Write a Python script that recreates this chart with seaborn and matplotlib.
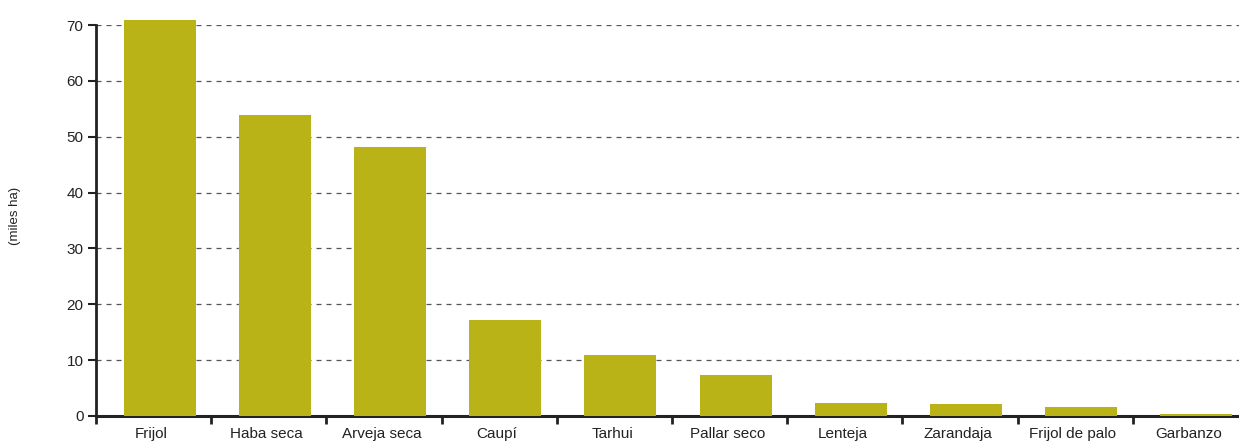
import matplotlib
matplotlib.use("Agg")
import matplotlib.pyplot as plt
import seaborn as sns
import numpy as np
import pandas as pd

# Data
cultivos = ["Frijol", "Haba seca", "Arveja seca", "Caupí", "Tarhui",
            "Pallar seco", "Lenteja", "Zarandaja", "Frijol de palo", "Garbanzo"]
superficie = [70.9, 53.9, 48.2, 17.2, 10.9, 7.3, 2.3, 2.1, 1.6, 0.4]
yticks = [0, 10, 20, 30, 40, 50, 60, 70]

bar_color = "#B9B317"
text_color = "#222222"
my_fontsize = 11

sns.set_style("white")
plt.rcParams['font.family'] = ['Liberation Sans', 'DejaVu Sans']

df = pd.DataFrame({"cultivo": cultivos, "miles_ha": superficie})
n = len(cultivos)

fig = plt.figure(figsize=(12.39, 4.43), dpi=100)
# axes runs a little past the right edge of the picture, as in the original
ax = fig.add_axes([0.0775, 0.061, 0.9298, 0.8825])

sns.barplot(data=df, x="cultivo", y="miles_ha", color=bar_color,
            width=0.625, saturation=1, linewidth=0, ax=ax, zorder=3)
for p in ax.patches:
    p.set_clip_on(False)

# bars sit slightly right of the category centre
shift = 0.052
ax.set_ylim(0, 70)
ax.set_xlim(-0.5 - shift, n - 0.5 - shift)
ax.set_yticks(yticks)
ax.set_yticklabels([str(v) for v in yticks], fontsize=my_fontsize, color=text_color)
ax.set_xticks(np.arange(n) - shift - 0.02)
ax.set_xticklabels(cultivos, fontsize=my_fontsize, color=text_color)
ax.set_xticks(np.arange(n + 1) - 0.5 - shift, minor=True)
ax.tick_params(axis="x", which="major", length=0, pad=8)
ax.tick_params(axis="x", which="minor", length=6, width=2, color=text_color,
               direction="out", bottom=True)
ax.tick_params(axis="y", length=6, width=1.5, color=text_color, direction="out",
               pad=3, left=True)

ax.yaxis.grid(True, linestyle=(0, (4, 4)), color="#555555", linewidth=0.9, zorder=0)
ax.xaxis.grid(False)
ax.set_axisbelow(True)

for s in ["top", "right"]:
    ax.spines[s].set_visible(False)
ax.spines["left"].set_color(text_color)
ax.spines["left"].set_linewidth(2)
ax.spines["bottom"].set_color(text_color)
ax.spines["bottom"].set_linewidth(2.2)

ax.set_xlabel("")
ax.set_ylabel("")
fig.text(0.012, 0.512, "(miles ha)", rotation=90, ha="center", va="center",
         fontsize=9.5, color=text_color)

fig.savefig("out.png", dpi=100)
